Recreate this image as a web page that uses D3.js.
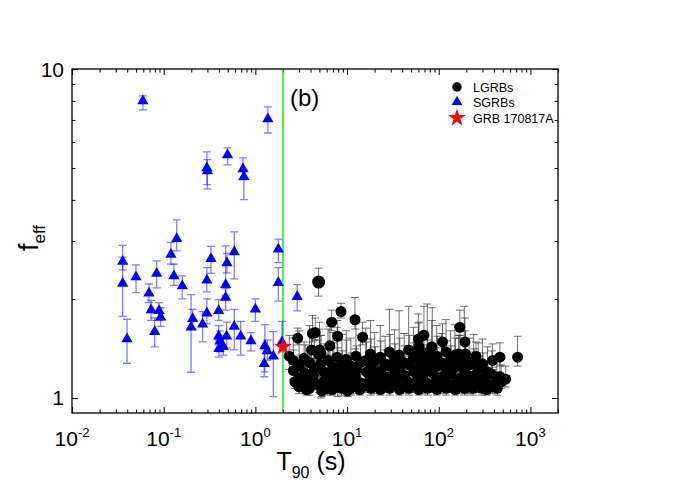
<!DOCTYPE html>
<html>
<head>
<meta charset="utf-8">
<script src="https://cdn.jsdelivr.net/npm/d3@7"></script>
<style>
  body { margin: 0; background: #fff; }
  svg { display: block; font-family: "Liberation Sans", Arial, sans-serif; }
</style>
</head>
<body>
<div id="chart"></div>
<script>
// axis ticks
const xMajor = [0.01, 0.1, 1, 10, 100, 1000];
const xExponents = ["-2", "-1", "0", "1", "2", "3"];
const yMajor = [1, 10];
const yLabels = ["1", "10"];
const yMinor = [2, 3, 4, 5, 6, 7, 8, 9];

// T90 boundary between short and long bursts
const t90Cut = 2;

// SGRBs: [T90, f_eff, upper, lower]
const sgrbs = [
  [0.0594, 8.0, 8.29, 7.51], [0.296, 5.0, 5.6, 4.45], [0.30, 4.9, 5.3, 4.32],
  [0.497, 5.48, 5.76, 5.11], [0.733, 4.97, 5.37, 4.6], [0.75, 4.70, 4.9, 4.01],
  [1.37, 7.05, 7.67, 6.39], [0.0357, 2.60, 2.91, 2.45], [0.0357, 2.23, 2.68, 1.77],
  [0.0398, 1.51, 1.735, 1.275], [0.0499, 2.33, 2.54, 2.09], [0.0839, 2.39, 2.61, 2.16],
  [0.0691, 2.08, 2.22, 1.95], [0.0729, 1.85, 1.98, 1.72], [0.0889, 1.84, 1.95, 1.72],
  [0.0927, 1.76, 1.88, 1.65], [0.0798, 1.59, 1.75, 1.43], [0.120, 2.73, 2.97, 2.55],
  [0.1387, 3.05, 3.48, 2.8], [0.1294, 2.35, 2.55, 2.2], [0.1595, 2.19, 2.35, 2.0],
  [0.207, 1.74, 1.86, 1.62], [0.199, 1.64, 2.06, 1.197], [0.266, 1.675, 1.83, 1.48],
  [0.296, 1.81, 2.0, 1.68], [0.296, 2.28, 2.49, 2.1], [0.328, 2.65, 2.89, 2.39],
  [0.398, 1.84, 1.99, 1.72], [0.398, 1.54, 1.66, 1.45], [0.411, 1.49, 1.60, 1.38],
  [0.40, 1.41, 1.50, 1.33], [0.447, 1.43, 1.55, 1.35], [0.486, 1.54, 1.70, 1.42],
  [0.474, 2.21, 2.90, 2.05], [0.474, 2.02, 2.15, 1.85], [0.49, 2.57, 2.75, 2.4],
  [0.589, 2.78, 3.20, 2.30], [0.589, 1.65, 1.86, 1.40], [0.692, 1.54, 1.71, 1.35],
  [0.895, 1.49, 1.58, 1.39], [1.0, 1.86, 2.0, 1.71], [1.27, 1.44, 1.67, 1.20],
  [1.35, 1.39, 1.50, 1.30], [1.25, 1.27, 1.40, 1.16], [1.57, 1.34, 1.59, 1.01],
  [1.78, 2.83, 3.04, 2.58], [1.78, 2.24, 2.49, 1.97], [1.95, 1.48, 1.71, 1.38],
  [2.86, 2.03, 2.21, 1.84]
];

// LGRBs: [T90, f_eff, upper, lower]
const lgrbs = [
  [8.6, 1.83, 1.94, 1.75], [12.2, 1.73, 2.02, 1.62], [6.8, 1.70, 1.85, 1.60],
  [2.9, 1.52, 1.63, 1.45], [4.2, 1.57, 1.78, 1.48], [4.5, 1.58, 1.75, 1.50],
  [7.9, 1.54, 1.72, 1.01], [14.8, 1.53, 1.70, 1.45], [6.5, 1.44, 1.65, 1.35],
  [4.1, 1.40, 1.60, 1.32], [5.0, 1.40, 1.62, 1.30], [5.2, 1.37, 1.55, 1.00],
  [2.34, 1.34, 1.55, 1.22], [60, 1.51, 1.80, 1.40], [69, 1.55, 1.90, 1.42],
  [61, 1.43, 1.70, 1.33], [84, 1.43, 1.72, 1.34], [110, 1.48, 1.68, 1.38],
  [170, 1.64, 1.85, 1.52], [193, 1.48, 1.75, 1.38], [164, 1.36, 1.55, 1.27],
  [196, 1.36, 1.60, 1.28], [255, 1.34, 1.48, 1.25], [465, 1.33, 1.47, 1.25],
  [387, 1.30, 1.46, 1.22], [725, 1.33, 1.54, 1.25], [537, 1.14, 1.25, 1.08],
  [465, 1.16, 1.30, 1.10],
  [2.6, 1.30, 1.52, 1.22], [2.6, 1.21, 1.40, 1.14], [2.7, 1.12, 1.30, 1.07],
  [3.0, 1.25, 1.60, 1.17], [3.1, 1.15, 1.35, 1.09], [3.0, 1.08, 1.22, 1.03],
  [3.4, 1.32, 1.48, 1.24], [3.5, 1.19, 1.45, 1.12], [3.4, 1.10, 1.28, 1.05], [3.6, 1.06, 1.18, 1.02],
  [3.9, 1.28, 1.66, 1.20], [4.0, 1.14, 1.38, 1.08], [3.9, 1.07, 1.20, 1.02],
  [4.4, 1.22, 1.50, 1.15], [4.5, 1.11, 1.32, 1.06], [4.3, 1.17, 1.42, 1.10],
  [5.0, 1.35, 1.70, 1.25], [5.1, 1.26, 1.55, 1.18], [5.0, 1.09, 1.30, 1.04], [5.3, 1.05, 1.16, 1.01],
  [5.6, 1.20, 1.46, 1.13], [5.7, 1.13, 1.36, 1.07], [5.5, 1.08, 1.24, 1.03],
  [6.2, 1.30, 1.62, 1.21], [6.3, 1.16, 1.40, 1.09], [6.1, 1.07, 1.22, 1.02],
  [7.0, 1.24, 1.58, 1.16], [7.1, 1.12, 1.34, 1.06], [6.9, 1.06, 1.19, 1.02], [7.2, 1.18, 1.47, 1.11],
  [7.8, 1.33, 1.64, 1.24], [7.9, 1.21, 1.42, 1.14], [7.7, 1.09, 1.28, 1.04],
  [8.8, 1.27, 1.56, 1.19], [8.9, 1.14, 1.39, 1.08], [8.7, 1.07, 1.21, 1.02],
  [9.8, 1.31, 1.60, 1.22], [9.9, 1.19, 1.50, 1.12], [9.7, 1.10, 1.30, 1.05], [10.1, 1.05, 1.17, 1.01],
  [11, 1.25, 1.52, 1.17], [11.2, 1.13, 1.37, 1.07], [10.9, 1.07, 1.23, 1.02],
  [12.5, 1.34, 1.68, 1.25], [12.7, 1.22, 1.44, 1.15], [12.3, 1.16, 1.41, 1.10], [12.6, 1.08, 1.26, 1.03],
  [14, 1.28, 1.55, 1.20], [14.2, 1.11, 1.33, 1.06], [13.8, 1.06, 1.18, 1.02],
  [16, 1.30, 1.63, 1.21], [16.3, 1.20, 1.48, 1.13], [15.8, 1.09, 1.27, 1.04],
  [18, 1.36, 1.72, 1.26], [18.3, 1.24, 1.51, 1.16], [17.8, 1.14, 1.38, 1.08], [18.1, 1.07, 1.22, 1.02],
  [20, 1.29, 1.58, 1.20], [20.4, 1.18, 1.43, 1.11], [19.8, 1.08, 1.25, 1.03],
  [23, 1.33, 1.66, 1.24], [23.4, 1.21, 1.49, 1.14], [22.7, 1.12, 1.35, 1.06], [23.2, 1.06, 1.20, 1.02],
  [26, 1.27, 1.54, 1.19], [26.4, 1.16, 1.40, 1.09], [25.7, 1.09, 1.27, 1.04],
  [29, 1.38, 1.86, 1.28], [29.5, 1.25, 1.56, 1.17], [28.6, 1.13, 1.36, 1.07], [29.2, 1.07, 1.21, 1.02],
  [33, 1.30, 1.61, 1.21], [33.5, 1.19, 1.46, 1.12], [32.6, 1.10, 1.29, 1.05],
  [37, 1.35, 1.84, 1.26], [37.6, 1.23, 1.52, 1.15], [36.5, 1.15, 1.39, 1.09], [37.3, 1.06, 1.19, 1.02],
  [42, 1.28, 1.57, 1.20], [42.7, 1.17, 1.44, 1.10], [41.4, 1.08, 1.25, 1.03],
  [47, 1.40, 1.90, 1.30], [47.8, 1.26, 1.55, 1.18], [46.3, 1.12, 1.34, 1.06], [47.4, 1.07, 1.22, 1.02],
  [53, 1.32, 1.64, 1.23], [53.9, 1.20, 1.47, 1.13], [52.2, 1.09, 1.28, 1.04],
  [60, 1.36, 1.69, 1.26], [61, 1.24, 1.53, 1.16], [59, 1.14, 1.37, 1.08], [60.5, 1.06, 1.19, 1.02],
  [67, 1.29, 1.59, 1.20], [68, 1.18, 1.45, 1.11], [66, 1.08, 1.24, 1.03],
  [75, 1.37, 1.93, 1.27], [76, 1.23, 1.50, 1.15], [74, 1.11, 1.33, 1.06], [75.5, 1.07, 1.21, 1.02],
  [85, 1.31, 1.88, 1.22], [86, 1.19, 1.46, 1.12], [84, 1.09, 1.27, 1.04],
  [95, 1.34, 1.66, 1.25], [96.5, 1.25, 1.54, 1.17], [93.5, 1.13, 1.36, 1.07], [95.5, 1.06, 1.19, 1.02],
  [107, 1.28, 1.57, 1.20], [108.5, 1.16, 1.42, 1.09], [105.5, 1.08, 1.25, 1.03],
  [120, 1.38, 1.73, 1.28], [122, 1.22, 1.49, 1.14], [118, 1.12, 1.35, 1.06], [121, 1.07, 1.21, 1.02],
  [135, 1.30, 1.60, 1.21], [137, 1.18, 1.44, 1.11], [133, 1.09, 1.27, 1.04],
  [150, 1.35, 1.67, 1.26], [152, 1.24, 1.52, 1.16], [148, 1.10, 1.31, 1.05], [151, 1.06, 1.19, 1.02],
  [170, 1.27, 1.55, 1.19], [172, 1.15, 1.40, 1.09], [168, 1.08, 1.24, 1.03],
  [190, 1.32, 1.90, 1.23], [193, 1.20, 1.47, 1.13], [187, 1.11, 1.33, 1.06], [191, 1.07, 1.21, 1.02],
  [215, 1.26, 1.52, 1.18], [218, 1.14, 1.38, 1.08], [212, 1.08, 1.24, 1.03],
  [240, 1.29, 1.56, 1.20], [243, 1.17, 1.41, 1.10], [237, 1.07, 1.22, 1.02],
  [270, 1.23, 1.47, 1.15], [274, 1.12, 1.34, 1.06], [266, 1.09, 1.26, 1.04],
  [300, 1.27, 1.51, 1.19], [305, 1.15, 1.37, 1.09], [296, 1.07, 1.21, 1.02],
  [340, 1.20, 1.43, 1.13], [345, 1.10, 1.29, 1.05], [335, 1.06, 1.18, 1.02],
  [380, 1.18, 1.39, 1.11], [386, 1.08, 1.24, 1.03],
  [430, 1.14, 1.33, 1.08], [436, 1.07, 1.20, 1.02],
  [480, 1.12, 1.26, 1.07]
];
// the one larger LGRB marker
const lgrbBig = [[4.9, 2.25, 2.48, 2.04]];

const grb170817 = [[2.0, 1.43]];

const legendItems = ["LGRBs", "SGRBs", "GRB 170817A"];

const W = 698, H = 493;
const pLeft = 72, pRight = 558, pTop = 69, pBottom = 413;

const svg = d3.select("#chart").append("svg")
    .attr("width", W)
    .attr("height", H);

const x = d3.scaleLog().domain([0.01, 2000]).range([pLeft, pRight]);
const y = d3.scaleLog().domain([0.9, 10]).range([pBottom, pTop]);

const xMinor = [];
xMajor.forEach(d => { for (let k = 2; k <= 9; k++) if (d * k <= 2000) xMinor.push(d * k); });

// ticks point inward on all four sides
function tickAxis(axisFn, scale, values, size, tr) {
    const g = svg.append("g")
        .attr("transform", tr)
        .call(axisFn(scale).tickValues(values).tickSize(-size).tickFormat(""));
    g.select(".domain").remove();
    g.selectAll("line").attr("stroke", "#000").attr("stroke-width", 1);
}
tickAxis(d3.axisBottom, x, xMajor, 6, `translate(0,${pBottom})`);
tickAxis(d3.axisBottom, x, xMinor, 3.5, `translate(0,${pBottom})`);
tickAxis(d3.axisTop, x, xMajor, 6, `translate(0,${pTop})`);
tickAxis(d3.axisTop, x, xMinor, 3.5, `translate(0,${pTop})`);
tickAxis(d3.axisLeft, y, yMajor, 6, `translate(${pLeft},0)`);
tickAxis(d3.axisLeft, y, yMinor, 3.5, `translate(${pLeft},0)`);
tickAxis(d3.axisRight, y, yMajor, 6, `translate(${pRight},0)`);
tickAxis(d3.axisRight, y, yMinor, 3.5, `translate(${pRight},0)`);

// tick labels
const xl = svg.append("g").selectAll("text")
    .data(xMajor)
    .enter()
    .append("text")
    .attr("x", d => x(d))
    .attr("y", 446)
    .attr("text-anchor", "middle")
    .attr("font-size", "21px")
    .attr("fill", "#000");
xl.append("tspan").text("10");
xl.append("tspan")
    .attr("dy", -9)
    .attr("font-size", "13px")
    .text((d, i) => xExponents[i]);

svg.append("g").selectAll("text")
    .data(yMajor)
    .enter()
    .append("text")
    .attr("x", pLeft - 8)
    .attr("y", d => y(d) + 7.5)
    .attr("text-anchor", "end")
    .attr("font-size", "21px")
    .attr("fill", "#000")
    .text((d, i) => yLabels[i]);

// axis titles
const xt = svg.append("text")
    .attr("x", 311)
    .attr("y", 470)
    .attr("text-anchor", "middle")
    .attr("font-size", "25px");
xt.append("tspan").text("T");
xt.append("tspan").attr("dy", 8).attr("font-size", "16px").text("90");
xt.append("tspan").attr("dy", -8).text(" (s)");

const yt = svg.append("text")
    .attr("transform", "translate(38,238) rotate(-90)")
    .attr("text-anchor", "middle")
    .attr("font-size", "27px");
yt.append("tspan").text("f");
yt.append("tspan").attr("dy", 7).attr("font-size", "17px").text("eff");

// clip for the plot area
svg.append("clipPath").attr("id", "plot-clip")
    .append("rect")
    .attr("x", pLeft).attr("y", pTop)
    .attr("width", pRight - pLeft).attr("height", pBottom - pTop);

const plot = svg.append("g").attr("clip-path", "url(#plot-clip)");

// green T90 = 2 s divider
plot.append("line")
    .attr("x1", x(t90Cut)).attr("x2", x(t90Cut))
    .attr("y1", pTop).attr("y2", pBottom)
    .attr("stroke", "#22e022")
    .attr("stroke-width", 1.5);

function errorBars(data, color, opacity, width) {
    const g = plot.append("g")
        .attr("stroke", color)
        .attr("stroke-opacity", opacity)
        .attr("stroke-width", width)
        .attr("fill", "none");
    g.selectAll(".eb")
        .data(data)
        .enter()
        .append("path")
        .attr("d", d => {
            const cx = x(d[0]), hi = y(d[2]), lo = y(d[3]);
            return `M${cx},${hi}V${lo}M${cx - 4},${hi}H${cx + 4}M${cx - 4},${lo}H${cx + 4}`;
        });
}

// LGRBs
errorBars(lgrbs.concat(lgrbBig), "#333", 0.7, 1);
plot.append("g").selectAll("circle")
    .data(lgrbs)
    .enter()
    .append("circle")
    .attr("cx", d => x(d[0]))
    .attr("cy", d => y(d[1]))
    .attr("r", 5.5)
    .attr("fill", "#000");
plot.append("g").selectAll("circle")
    .data(lgrbBig)
    .enter()
    .append("circle")
    .attr("cx", d => x(d[0]))
    .attr("cy", d => y(d[1]))
    .attr("r", 6.5)
    .attr("fill", "#000");

// SGRBs
errorBars(sgrbs, "#0000ff", 0.5, 1.3);
const tri = d3.symbol().type(d3.symbolTriangle).size(55);
plot.append("g").selectAll("path")
    .data(sgrbs)
    .enter()
    .append("path")
    .attr("d", tri)
    .attr("transform", d => `translate(${x(d[0])},${y(d[1])})`)
    .attr("fill", "#0000ff");

// GRB 170817A
plot.append("g").selectAll("path")
    .data(grb170817)
    .enter()
    .append("path")
    .attr("d", d3.symbol().type(d3.symbolStar).size(95))
    .attr("transform", d => `translate(${x(d[0])},${y(d[1])})`)
    .attr("fill", "#ff0000");

// frame
svg.append("rect")
    .attr("x", pLeft).attr("y", pTop)
    .attr("width", pRight - pLeft).attr("height", pBottom - pTop)
    .attr("fill", "none")
    .attr("stroke", "#000")
    .attr("stroke-width", 1.3);

// panel tag
svg.append("text")
    .attr("x", 290)
    .attr("y", 106)
    .attr("font-size", "24px")
    .text("(b)");

// legend
const legend = svg.append("g").attr("transform", "translate(457,87)");
const symbols = [
    d3.symbol().type(d3.symbolCircle).size(70),
    d3.symbol().type(d3.symbolTriangle).size(50),
    d3.symbol().type(d3.symbolStar).size(100)
];
const legendColors = ["#000", "#0000ff", "#ff0000"];
const rows = legend.selectAll(".legend-item")
    .data(legendItems)
    .enter()
    .append("g")
    .attr("class", "legend-item")
    .attr("transform", (d, i) => `translate(0,${[0, 15, 31][i]})`);
rows.append("path")
    .attr("d", (d, i) => symbols[i]())
    .attr("fill", (d, i) => legendColors[i]);
rows.append("text")
    .attr("x", 16)
    .attr("y", 4.5)
    .attr("font-size", "12.5px")
    .attr("fill", "#000")
    .text(d => d);
</script>
</body>
</html>
